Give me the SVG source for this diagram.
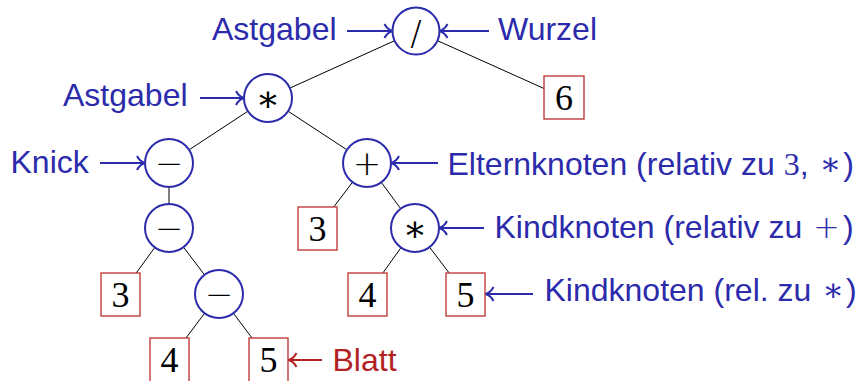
<svg xmlns="http://www.w3.org/2000/svg" width="861" height="381" viewBox="0 0 861 381">
<style>
.edge{stroke:#000;stroke-width:1;fill:none}
.op{fill:#fff;stroke:#2b2bab;stroke-width:2}
.leaf{fill:#fff;stroke:#c43c3c;stroke-width:1.4}
.sym{font-family:"Liberation Serif","DejaVu Serif",serif;font-size:36px;fill:#000;text-anchor:middle}
.ops{font-family:"DejaVu Sans","Liberation Sans",sans-serif;font-size:34px;font-weight:300;fill:#000;text-anchor:middle}
.lbl{font-family:"Liberation Sans",Arial,sans-serif;font-size:32px;fill:#2b2bab}
.red{fill:#b22222}
.m{font-family:"Liberation Serif","DejaVu Serif",serif}
.mp{font-family:"DejaVu Sans",sans-serif;font-size:32px;font-weight:300}
.arr{stroke:#2b2bab;stroke-width:2;fill:none;marker-end:url(#hb)}
.arrR{stroke:#b22222;stroke-width:2;fill:none;marker-end:url(#hr)}
</style>
<defs>
<marker id="hb" viewBox="-10 -9 12 18" refX="0" refY="0" markerWidth="12" markerHeight="18" markerUnits="userSpaceOnUse" orient="auto">
<path d="M-8,-7 C-6,-3 -2.5,-0.7 0,0 C-2.5,0.7 -6,3 -8,7" fill="none" stroke="#2b2bab" stroke-width="2"/>
</marker>
<marker id="hr" viewBox="-10 -9 12 18" refX="0" refY="0" markerWidth="12" markerHeight="18" markerUnits="userSpaceOnUse" orient="auto">
<path d="M-8,-7 C-6,-3 -2.5,-0.7 0,0 C-2.5,0.7 -6,3 -8,7" fill="none" stroke="#b22222" stroke-width="2"/>
</marker>
</defs>
<g id="connectors">
<line class="edge" x1="416" y1="31" x2="268" y2="98"/>
<line class="edge" x1="416" y1="31" x2="564" y2="97.5"/>
<line class="edge" x1="268" y1="98" x2="169" y2="163"/>
<line class="edge" x1="268" y1="98" x2="367" y2="163"/>
<line class="edge" x1="169" y1="163" x2="169" y2="228"/>
<line class="edge" x1="367" y1="163" x2="317.5" y2="228.5"/>
<line class="edge" x1="367" y1="163" x2="415" y2="228"/>
<line class="edge" x1="169" y1="228" x2="120.5" y2="294.5"/>
<line class="edge" x1="169" y1="228" x2="219" y2="294"/>
<line class="edge" x1="415" y1="228" x2="367.5" y2="294.5"/>
<line class="edge" x1="415" y1="228" x2="465.5" y2="294.5"/>
<line class="edge" x1="219" y1="294" x2="169.5" y2="360"/>
<line class="edge" x1="219" y1="294" x2="268.5" y2="360"/>
<line class="arr" x1="347" y1="31" x2="392.5" y2="31"/>
<line class="arr" x1="489" y1="31" x2="439.5" y2="31"/>
<line class="arr" x1="200" y1="98" x2="244" y2="98"/>
<line class="arr" x1="100" y1="163" x2="145" y2="163"/>
<line class="arr" x1="438" y1="163" x2="391" y2="163"/>
<line class="arr" x1="484" y1="228" x2="439" y2="228"/>
<line class="arr" x1="533" y1="294" x2="485.5" y2="294"/>
<line class="arrR" x1="322" y1="360" x2="288.5" y2="360"/>
</g>
<g id="n-div"><circle class="op" cx="416" cy="31" r="23.5"/><text class="ops" x="416" y="44.5">/</text></g>
<g id="n-mul1"><circle class="op" cx="268" cy="98" r="24"/><text class="sym" x="268" y="111">∗</text></g>
<g id="n-6"><rect class="leaf" x="544" y="76" width="40" height="43"/><text class="sym" x="564" y="110">6</text></g>
<g id="n-sub1"><circle class="op" cx="169" cy="163" r="24"/><text class="ops" x="169" y="174.5">−</text></g>
<g id="n-add"><circle class="op" cx="367" cy="163" r="24"/><text class="ops" x="367" y="174.5">+</text></g>
<g id="n-sub2"><circle class="op" cx="169" cy="228" r="24"/><text class="ops" x="169" y="239.5">−</text></g>
<g id="n-3a"><rect class="leaf" x="298" y="207" width="39" height="43"/><text class="sym" x="317.5" y="241">3</text></g>
<g id="n-mul2"><circle class="op" cx="415" cy="228" r="24"/><text class="sym" x="415" y="241">∗</text></g>
<g id="n-3b"><rect class="leaf" x="101" y="273" width="39" height="43"/><text class="sym" x="120.5" y="307">3</text></g>
<g id="n-sub3"><circle class="op" cx="219" cy="294" r="24"/><text class="ops" x="219" y="305.5">−</text></g>
<g id="n-4a"><rect class="leaf" x="348" y="273" width="39" height="43"/><text class="sym" x="367.5" y="307">4</text></g>
<g id="n-5a"><rect class="leaf" x="446" y="273" width="39" height="43"/><text class="sym" x="465.5" y="307">5</text></g>
<g id="n-4b"><rect class="leaf" x="150" y="338" width="39" height="44"/><text class="sym" x="169.5" y="372">4</text></g>
<g id="n-5b"><rect class="leaf" x="249" y="338" width="39" height="44"/><text class="sym" x="268.5" y="372">5</text></g>
<g id="l-astgabel1"><text class="lbl" x="212" y="40">Astgabel</text></g>
<g id="l-wurzel"><text class="lbl" x="498" y="40">Wurzel</text></g>
<g id="l-astgabel2"><text class="lbl" x="63" y="106">Astgabel</text></g>
<g id="l-knick"><text class="lbl" x="10.5" y="173">Knick</text></g>
<g id="l-eltern"><text class="lbl" x="447.5" y="175">Elternknoten (relativ zu <tspan class="m">3</tspan>, <tspan class="m" dx="2">∗</tspan><tspan dx="2">)</tspan></text></g>
<g id="l-kind1"><text class="lbl" x="494.5" y="238">Kindknoten (relativ zu <tspan class="mp" dx="2">+</tspan><tspan dx="3">)</tspan></text></g>
<g id="l-kind2"><text class="lbl" x="544.5" y="301">Kindknoten (rel. zu <tspan class="m" dx="2">∗</tspan><tspan dx="2">)</tspan></text></g>
<g id="l-blatt"><text class="lbl red" x="332.5" y="371">Blatt</text></g>
</svg>
